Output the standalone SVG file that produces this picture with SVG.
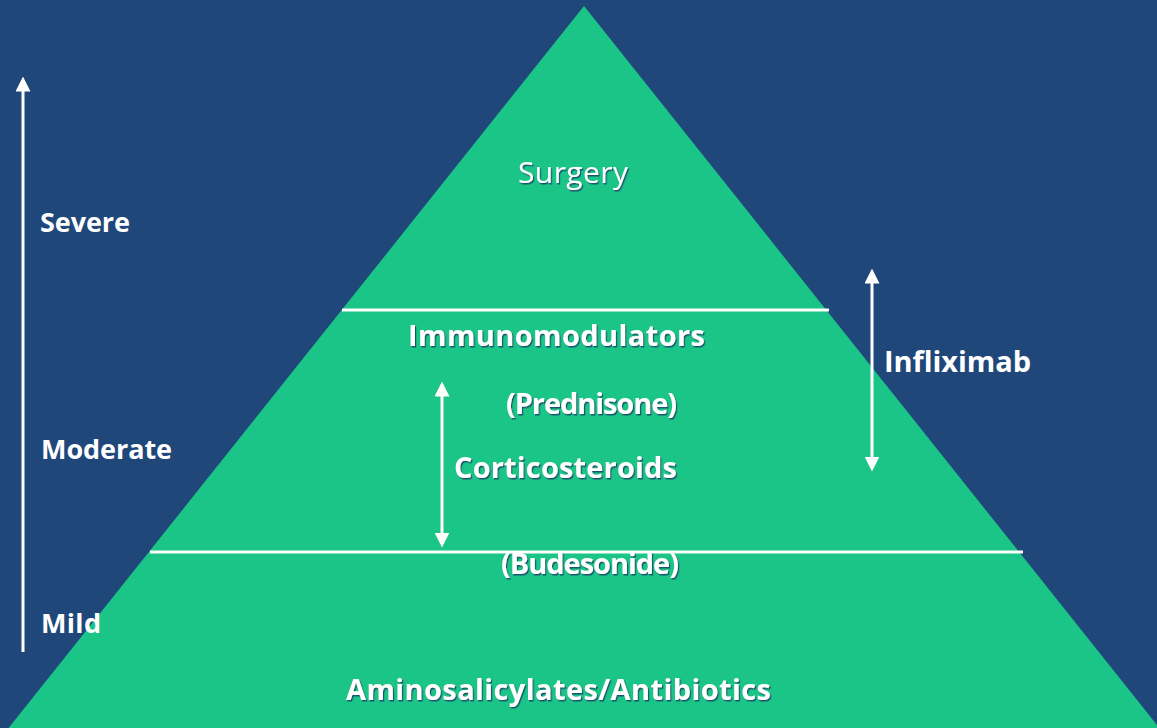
<svg xmlns="http://www.w3.org/2000/svg" width="1157" height="728" viewBox="0 0 1157 728">
  <defs>
    <filter id="shadow" x="-5%" y="-20%" width="110%" height="150%">
      <feDropShadow dx="1.2" dy="1.5" stdDeviation="0.6" flood-color="#1a2f66" flood-opacity="0.75"/>
    </filter>
    <marker id="head" viewBox="0 0 10 10" refX="5" refY="5" markerWidth="5" markerHeight="5" orient="auto-start-reverse" markerUnits="strokeWidth">
      <path d="M0,0 L10,5 L0,10 z" fill="#ffffff"/>
    </marker>
  </defs>
  <style>
    .bg { fill: #1f477a; }
    .tier { fill: #1bc487; }
    .divider { stroke: #ffffff; stroke-width: 3; }
    .conn { stroke: #ffffff; stroke-width: 3; fill: none; }
    .label { font-family: "Open Sans", "Liberation Sans", sans-serif; font-weight: 700; font-size: 29px; fill: #ffffff; }
    .side { font-size: 27px; }
    .shadowed { filter: url(#shadow); }
    .light { font-weight: 400; font-size: 30px; }
  </style>

  <rect class="bg" x="0" y="0" width="1157" height="728"/>

  <!-- pyramid body -->
  <g id="pyramid">
    <polygon class="tier" points="584,6 1165,735 3,735"/>
    <line class="divider" x1="342" y1="310" x2="829" y2="310"/>
    <line class="divider" x1="150" y1="552" x2="1023" y2="552"/>
  </g>

  <!-- arrows -->
  <g id="connectors">
    <line class="conn" x1="23" y1="652" x2="23" y2="84" marker-end="url(#head)"/>
    <line class="conn" x1="442" y1="389" x2="442" y2="540" marker-start="url(#head)" marker-end="url(#head)"/>
    <line class="conn" x1="872" y1="276" x2="872" y2="464" marker-start="url(#head)" marker-end="url(#head)"/>
  </g>

  <!-- severity scale -->
  <g id="severe"><text class="label side" x="40" y="232" textLength="90">Severe</text></g>
  <g id="moderate"><text class="label side" x="41" y="459" textLength="131">Moderate</text></g>
  <g id="mild"><text class="label side" x="41" y="633" textLength="60">Mild</text></g>

  <!-- pyramid tiers -->
  <g id="surgery"><text class="label light shadowed" x="518" y="183" textLength="110">Surgery</text></g>
  <g id="immunomodulators"><text class="label shadowed" x="408" y="346" textLength="297">Immunomodulators</text></g>
  <g id="prednisone"><text class="label shadowed" x="506" y="414" textLength="171">(Prednisone)</text></g>
  <g id="corticosteroids"><text class="label shadowed" x="454" y="478" textLength="223">Corticosteroids</text></g>
  <g id="budesonide"><text class="label shadowed" x="501" y="574" textLength="178">(Budesonide)</text></g>
  <g id="infliximab"><text class="label" x="884" y="372" textLength="147">Infliximab</text></g>
  <g id="aminosalicylates"><text class="label shadowed" x="346" y="700" textLength="425">Aminosalicylates/Antibiotics</text></g>
</svg>
